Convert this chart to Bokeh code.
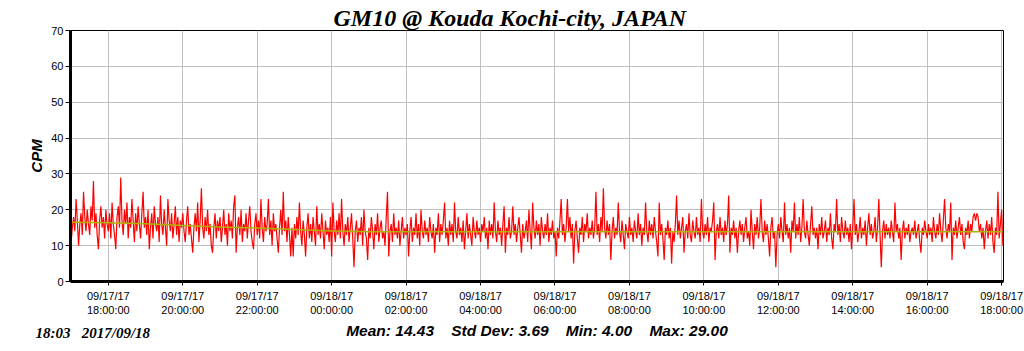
import pandas as pd
from bokeh.plotting import figure
from bokeh.models import Range1d, FixedTicker, DatetimeTickFormatter, ColumnDataSource, Title
from bokeh.embed import file_html
from bokeh.resources import INLINE

# ---------------- data ----------------
series_start = "2017-09-17 17:00"
sample_step = "2min"
cpm = [
    11,15,18,14,23,17,10,16,19,13,25,18,14,20,16,13,21,17,28,15,19,13,9,17,21,15,18,12,20,16,
    14,19,12,22,16,13,9,18,21,15,29,17,13,20,16,22,12,18,15,23,17,11,19,14,21,16,12,19,25,15,
    18,13,20,9,15,19,12,21,16,14,18,11,24,16,13,20,15,10,23,17,14,19,12,16,21,13,18,11,17,15,
    19,14,11,17,21,13,16,12,8,15,19,14,22,11,17,26,15,12,18,14,20,13,16,10,8,15,19,12,17,14,
    18,11,15,20,13,16,10,19,14,17,12,21,24,8,15,18,13,20,11,16,14,19,12,17,21,14,11,9,16,19,
    13,17,12,23,15,11,18,14,16,23,13,17,10,19,14,16,12,8,15,20,13,25,14,17,11,18,13,7,15,7,
    16,12,18,13,22,14,10,17,13,7,15,19,12,16,11,18,14,10,21,13,16,12,19,14,9,17,13,15,11,18,
    7,22,14,11,17,13,19,12,23,14,10,16,13,18,11,15,19,12,4,14,17,11,15,13,18,10,20,14,12,6,
    15,12,18,14,9,16,13,19,11,15,17,12,14,10,18,25,7,14,16,11,19,13,15,12,17,10,14,18,12,15,
    13,16,7,14,18,11,15,13,19,12,16,10,20,14,12,17,13,15,11,18,14,12,16,8,15,13,19,11,16,13,
    17,22,12,15,10,17,13,16,11,22,14,12,18,13,15,11,17,9,14,19,12,16,13,10,18,14,12,17,13,15,
    11,16,14,18,12,15,9,17,13,16,12,22,14,11,17,13,15,10,16,21,8,15,13,18,12,14,21,13,16,11,
    15,18,13,8,16,12,14,17,11,20,14,9,22,15,12,17,13,16,10,18,14,12,16,13,19,11,15,13,17,12,
    14,7,15,12,17,23,13,16,11,15,23,14,18,12,16,5,14,17,12,8,15,13,18,11,16,14,19,12,15,13,
    17,12,15,25,13,16,11,18,14,26,15,12,17,13,16,6,14,18,12,15,13,22,14,11,17,13,9,16,14,12,
    18,13,15,11,17,14,12,19,13,16,10,15,13,22,14,11,17,13,16,12,18,14,11,7,22,13,16,12,6,15,
    13,17,12,15,5,14,11,16,24,13,17,12,15,18,8,14,16,12,19,13,11,17,14,12,18,13,15,11,23,14,
    12,16,13,18,11,15,14,17,22,6,14,16,12,18,13,15,11,17,13,16,24,8,15,13,17,12,15,8,14,17,
    13,16,11,15,18,12,14,10,20,14,9,16,13,18,12,15,23,14,11,17,13,16,12,7,15,18,12,14,4,13,
    16,12,18,14,11,22,13,16,12,15,8,17,14,22,12,16,13,18,11,15,23,14,12,17,13,10,16,21,13,15,
    12,15,9,16,13,18,12,14,17,11,15,13,19,12,9,16,14,23,13,16,11,18,14,12,17,13,15,11,16,9,
    15,23,13,16,11,14,18,12,15,13,17,10,15,19,13,16,12,14,18,11,15,23,13,4,14,17,12,16,13,15,
    12,17,14,11,22,14,16,12,15,6,14,17,12,15,13,16,11,14,15,13,17,12,14,16,11,8,15,13,17,14,
    12,16,13,15,11,18,14,12,16,13,19,14,11,17,23,15,12,16,14,22,6,15,13,17,12,15,18,13,16,11,
    9,15,13,17,12,16,14,18,19,17,19,18,14,16,12,15,9,14,17,12,16,13,18,11,8,15,13,25,12,16,
    20,10,
]
trend_times = ["2017-09-17 17:00", "2017-09-17 18:00", "2017-09-17 19:00", "2017-09-17 20:00",
               "2017-09-17 21:00", "2017-09-17 22:00", "2017-09-17 23:00", "2017-09-18 00:00",
               "2017-09-18 01:00", "2017-09-18 18:02"]
trend_values = [16.5, 16.4, 16.1, 15.6, 15.2, 14.9, 14.5, 14.1, 13.9, 13.9]
x_tick_times = ["2017-09-17 18:00", "2017-09-17 20:00", "2017-09-17 22:00", "2017-09-18 00:00",
                "2017-09-18 02:00", "2017-09-18 04:00", "2017-09-18 06:00", "2017-09-18 08:00",
                "2017-09-18 10:00", "2017-09-18 12:00", "2017-09-18 14:00", "2017-09-18 16:00",
                "2017-09-18 18:00"]
y_ticks = [0, 10, 20, 30, 40, 50, 60, 70]
title_text = "GM10 @ Kouda Kochi-city, JAPAN"
stamp_parts = ["18:03", "2017/09/18"]
stats = ["Mean: 14.43", "Std Dev: 3.69", "Min: 4.00", "Max: 29.00"]
x_start = "2017-09-17 16:59"
x_end = "2017-09-18 18:03"

# ---------------- helpers ----------------
EPOCH = pd.Timestamp("1970-01-01")
def ms(s):
    return (pd.Timestamp(s) - EPOCH) / pd.Timedelta(milliseconds=1)

NB = "\u00a0"
W, H = 1024, 351
L, R, T, B = 70, 1003, 30, 281
Y0, Y1 = 0, 70

times = pd.date_range(series_start, periods=len(cpm), freq=sample_step)
src = ColumnDataSource(dict(t=times, cpm=cpm))

p = figure(width=W, height=H, x_axis_type="datetime", output_backend="svg",
           toolbar_location=None, title=None,
           x_range=Range1d(ms(x_start), ms(x_end)), y_range=Range1d(Y0, Y1),
           min_border_left=L, min_border_right=W - R, min_border_top=T,
           min_border_bottom=H - B)
p.background_fill_color = "white"
p.border_fill_color = "white"
p.outline_line_color = "black"
p.outline_line_width = 1
p.outline_line_alpha = 1

p.add_layout(Title(text=title_text, align="left", offset=333 - L, standoff=0,
                   text_font="Liberation Serif", text_font_style="bold italic",
                   text_font_size="24px", text_color="black"), "above")

p.grid.grid_line_color = "#c0c0c0"
p.grid.grid_line_width = 1

# axes
p.xaxis.ticker = FixedTicker(ticks=[ms(t) for t in x_tick_times])
fmt = "%m/%d/%y\n%H:%M:%S"
p.xaxis.formatter = DatetimeTickFormatter(
    microseconds=fmt, milliseconds=fmt, seconds=fmt, minsec=fmt, minutes=fmt,
    hourmin=fmt, hours=fmt, days=fmt, months=fmt, years=fmt)
p.yaxis.ticker = FixedTicker(ticks=y_ticks)
for ax in (p.xaxis[0], p.yaxis[0]):
    ax.axis_line_width = 3
    ax.axis_line_color = "black"
    ax.major_tick_line_color = "black"
    ax.major_tick_in = 0
    ax.minor_tick_line_color = None
    ax.major_label_text_color = "black"
    ax.major_label_text_font = "Liberation Sans"
    ax.major_label_text_font_size = "11px"
p.yaxis.major_tick_out = 5
p.yaxis.major_label_standoff = 2
p.xaxis.major_tick_out = 4
p.xaxis.major_label_standoff = 4
p.yaxis.axis_label = "CPM"
p.yaxis.axis_label_text_font = "Liberation Sans"
p.yaxis.axis_label_text_font_style = "bold italic"
p.yaxis.axis_label_text_font_size = "15px"
p.yaxis.axis_label_text_color = "black"
p.yaxis.axis_label_standoff = 3

# statistics line as the x axis label (centred under the frame)
p.xaxis.axis_label = (NB * 4).join(stats)
p.xaxis.axis_label_text_font = "Liberation Sans"
p.xaxis.axis_label_text_font_style = "bold italic"
p.xaxis.axis_label_text_font_size = "15.5px"
p.xaxis.axis_label_text_color = "black"
p.xaxis.axis_label_standoff = 3

# time stamp at bottom left
p.add_layout(Title(text=(NB * 3).join(stamp_parts), align="left", offset=35 - L,
                   standoff=-33, vertical_align="top",
                   text_font="Liberation Serif", text_font_style="bold italic",
                   text_font_size="15px", text_color="black"), "below")

# series
p.line(x="t", y="cpm", source=src, line_color="#ff0000", line_width=1.2)
p.line(x=pd.to_datetime(trend_times), y=trend_values, line_color="#b0b000", line_width=1.5)

open("out.html", "w").write(file_html(p, INLINE))
